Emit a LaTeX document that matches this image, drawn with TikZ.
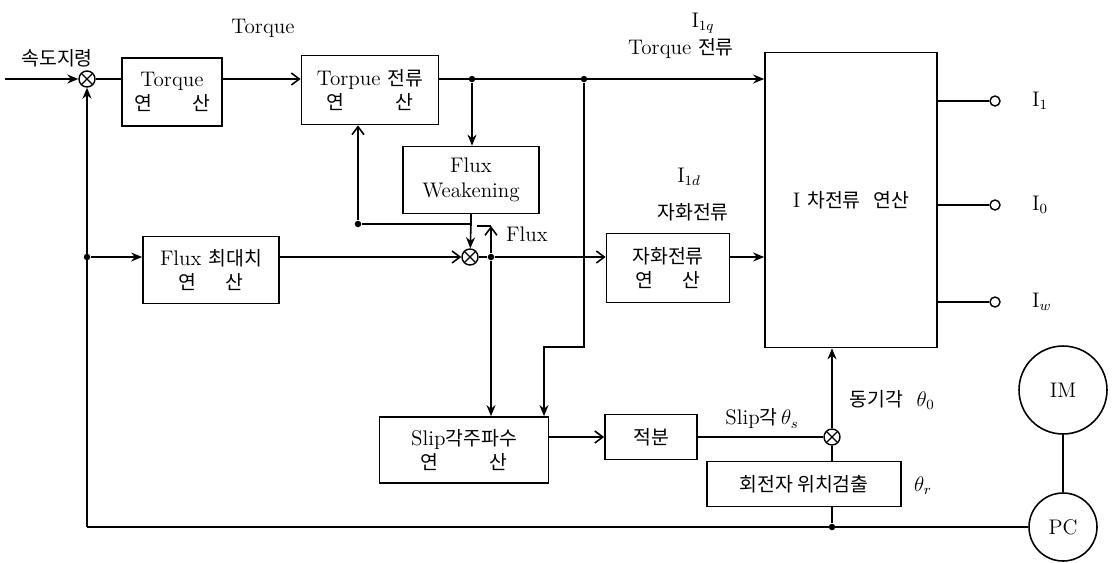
\documentclass[tikz,border=0pt]{standalone}
\usepackage{fontspec}
\usetikzlibrary{arrows.meta,positioning,calc}
\newfontfamily\krfont[Scale=0.92]{Noto Sans CJK KR}
\newcommand{\kor}[1]{{\krfont #1}}

\begin{document}
\begin{tikzpicture}[
    x=0.02cm, y=-0.02cm,
    font=\fontsize{12}{14}\selectfont,
    >={Stealth[length=2.2mm,width=1.8mm]},
    block/.style={rectangle, draw, line width=1pt, align=center, inner sep=2pt},
    sumj/.style={circle, draw, line width=0.8pt, minimum size=3.2mm, inner sep=0pt,
        path picture={\draw[line width=0.7pt] (path picture bounding box.south west) -- (path picture bounding box.north east)
            (path picture bounding box.north west) -- (path picture bounding box.south east);}},
    dot/.style={circle, fill, inner sep=0pt, minimum size=1.3mm},
    term/.style={circle, draw, line width=0.8pt, inner sep=0pt, minimum size=2mm},
    wire/.style={line width=0.9pt},
    arrow/.style={->, line width=0.9pt},
    barb/.style={-{Straight Barb[length=1.6mm,width=2.4mm]}, line width=0.9pt},
]
\useasboundingbox (0,0) rectangle (1115,562);

% blocks
\node[block, minimum width=2cm, minimum height=1.36cm] (tq) at (172,92) {Torque\\\kor{연}\hspace{1.9em}\kor{산}};
\node[block, minimum width=2.74cm, minimum height=1.38cm] (tqi) at (370,90) {Torpue \kor{전류}\\\kor{연}\hspace{2.4em}\kor{산}};
\node[block, minimum width=2.72cm, minimum height=1.34cm] (fw) at (471,180) {Flux\\Weakening};
\node[block, minimum width=2.72cm, minimum height=1.34cm] (fmax) at (211,270) {Flux \kor{최대치}\\\kor{연}\hspace{1.4em}\kor{산}};
\node[block, minimum width=2.46cm, minimum height=1.38cm] (mag) at (668,268) {\kor{자화전류}\\\kor{연}\hspace{1.4em}\kor{산}};
\node[block, minimum width=3.44cm, minimum height=5.9cm] (big) at (851,200) {I \kor{차전류}\hspace{0.6em}\kor{연산}};
\node[block, minimum width=3.38cm, minimum height=1.32cm] (slip) at (464,450) {Slip\kor{각주파수}\\\kor{연}\hspace{2.4em}\kor{산}};
\node[block, minimum width=1.84cm, minimum height=0.9cm] (integ) at (651,437) {\kor{적분}};
\node[block, minimum width=3.88cm, minimum height=0.9cm] (rot) at (804,484) {\kor{회전자 위치검출}};
\node[circle, draw, line width=0.9pt, minimum size=1.76cm] (im) at (1063,390) {IM};
\node[circle, draw, line width=0.9pt, minimum size=1.36cm] (pc) at (1063,527) {PC};

% summing points and branch dots
\node[sumj] (s1) at (87,79) {};
\node[sumj] (s2) at (470,257) {};
\node[sumj] (s3) at (832,437) {};
\node[dot] (d1) at (472,79) {};
\node[dot] (d2) at (584,79) {};
\node[dot] (d3) at (87,257) {};
\node[dot] (d4) at (491,257) {};
\node[dot] (d5) at (358,224) {};
\node[dot] (d6) at (832,527) {};
\coordinate (cin) at (5,79);
\coordinate (j1) at (471,224);
\coordinate (fx) at (491,226);
\coordinate (fx2) at (477,226);
\coordinate (bend) at (544,347);
\coordinate (bl) at (87,527);

% connectors
\draw[arrow] (cin) -- (s1);
\draw[wire] (s1) -- (tq.west |- s1);
\draw[barb] (tq.east |- s1) -- (tqi.west |- s1);
\draw[arrow] (tqi.east |- s1) -- (big.west |- s1);
\draw[arrow] (d1) -- (d1 |- fw.north);
\draw[wire] (fw.south) -- (j1);
\draw[barb] (j1) -- (d5) -- (d5 |- tqi.south);
\draw[arrow] (j1) -- (s2);
\draw[barb] (d4) -- (fx);
\draw[wire] (fx) -- (fx2);
\draw[wire] (pc.west) -- (bl);
\draw[arrow] (bl) -- (s1);
\draw[arrow] (d3) -- (fmax.west |- d3);
\draw[barb] (fmax.east |- s2) -- (s2);
\draw[wire] (s2) -- (d4);
\draw[barb] (d4) -- (mag.west |- d4);
\draw[arrow] (mag.east |- d4) -- (big.west |- d4);
\draw[arrow] (d4) -- (d4 |- slip.north);
\draw[arrow] (d2) |- (bend) -- (bend |- slip.north);
\draw[barb] (slip.east |- integ) -- (integ.west);
\draw[wire] (integ.east) -- (s3);
\draw[arrow] (s3) -- (s3 |- big.south);
\draw[wire] (s3) -- (s3 |- rot.north);
\draw[wire] (s3 |- rot.south) -- (d6);
\draw[wire] (im) -- (pc);

% outputs
\foreach \y/\lab [count=\i] in {101/I$_1$, 205/I$_0$, 302/I$_w$} {
    \node[term] (t\i) at (995,\y) {};
    \draw[wire] (big.east |- t\i) -- (t\i);
    \node[anchor=west] (lo\i) at (1026,\y) {\lab};
}

% labels
\node (lcmd) at (57,58) {\kor{속도지령}};
\node (ltq) at (263,28) {Torque};
\node (liq) at (703,23) {I$_{1q}$};
\node (liqk) at (681,49) {Torque \kor{전류}};
\node (lid) at (689,177) {I$_{1d}$};
\node (lidk) at (693,212) {\kor{자화전류}};
\node (lflux) at (527,234) {Flux};
\node (lslip) at (762,419) {Slip\kor{각}\,$\theta_s$};
\node (lsync) at (892,400) {\kor{동기각}\ \ $\theta_0$};
\node (lrot) at (923,486) {$\theta_r$};
\end{tikzpicture}
\end{document}
